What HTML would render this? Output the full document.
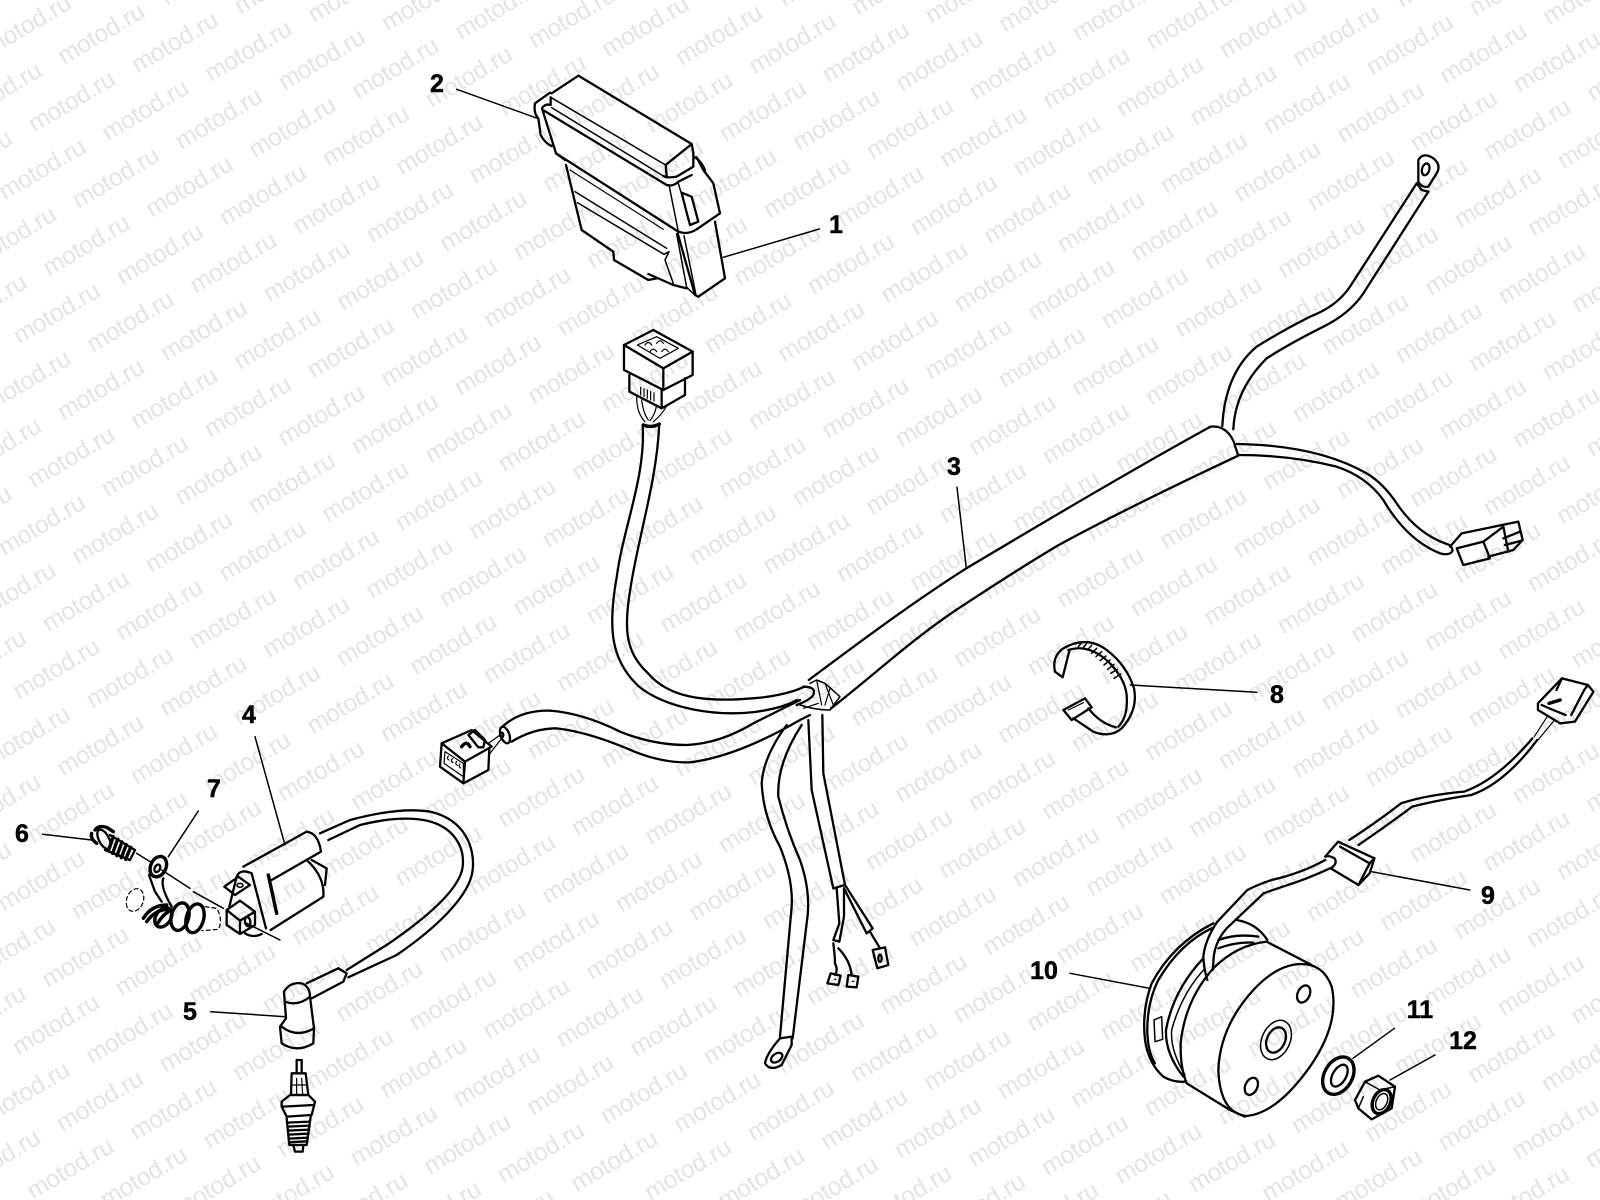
<!DOCTYPE html>
<html><head><meta charset="utf-8"><title>Ignition system parts diagram</title>
<style>
html,body{margin:0;padding:0;background:#fff;width:1600px;height:1200px;overflow:hidden}
svg{display:block}
.a path,.a ellipse,.a polygon,.a line{fill:none;stroke:#000;stroke-width:2.3;stroke-linecap:round;stroke-linejoin:round;vector-effect:non-scaling-stroke}
.a .t{stroke-width:1.2}
.a .l{stroke-width:1.5}
.a .k{stroke-width:3.4}
.a .d{stroke-width:1.2;stroke-dasharray:4 3}
.n{font:bold 25px "Liberation Sans",sans-serif;fill:#000;text-anchor:middle;stroke:#000;stroke-width:.5}
.w{font:24.8px "Liberation Sans",sans-serif;fill:#e3e3e3}
</style></head><body>
<svg xmlns="http://www.w3.org/2000/svg" width="1600" height="1200" viewBox="0 0 1600 1200">
<defs>
<pattern id="wm" patternUnits="userSpaceOnUse" x="0" y="0" width="1" height="1" patternTransform="matrix(73.5 8.6 -29.5 67.7 64 65)">
<text class="w" transform="matrix(.008251 -.00859 .011459 .011246 0 0)">motod.ru</text>
<text class="w" transform="matrix(.008251 -.00859 .011459 .011246 1 0)">motod.ru</text>
<text class="w" transform="matrix(.008251 -.00859 .011459 .011246 0 1)">motod.ru</text>
<text class="w" transform="matrix(.008251 -.00859 .011459 .011246 1 1)">motod.ru</text>
<text class="w" transform="matrix(.008251 -.00859 .011459 .011246 0 2)">motod.ru</text>
<text class="w" transform="matrix(.008251 -.00859 .011459 .011246 1 2)">motod.ru</text>
</pattern>
</defs>
<rect width="1600" height="1200" fill="#fff"/>
<rect width="1600" height="1200" fill="url(#wm)"/>
<g class="a">
<!-- ECU -->
<g transform="translate(520,70) scale(.33333)">
<path d="M175 17L515 222L520 248M175 17L95 70"/>
<path class="l" d="M92 82L437 285"/>
<path d="M437 285L515 222M437 285L440 318"/>
<path class="l" d="M95 113L430 318"/>
<path d="M430 318Q440 325 470 320L520 290L520 248"/>
<path d="M72 122L440 345Q460 350 475 335L515 315"/>
<path d="M45 100L90 68M45 100Q40 130 55 145L62 195Q75 220 95 228"/>
<path d="M66 115Q75 100 92 105M92 82L92 105M66 115L108 250L135 270"/>
<path d="M108 250L472 483Q500 497 530 478L600 430L580 340L550 300L530 262M525 262Q545 275 555 300"/>
<path class="l" d="M447 345L475 485M475 340Q490 390 510 465"/>
<path d="M485 368L515 380L535 455L510 465Q495 410 485 368"/>
<path d="M138 285L185 480L280 545"/>
<path class="t" d="M150 300L430 478"/>
<path class="l" d="M165 365L440 535"/>
<path class="l" d="M172 398L432 553L447 545L435 570L460 640"/>
<path d="M280 545L282 570L385 630L410 625"/>
<path d="M385 612L460 645L500 655"/>
<path d="M473 490L525 675L535 680L615 625L585 455"/>
<path class="l" d="M470 492L500 652L525 675M492 497L528 675"/>
</g>
<!-- 8-pin connector -->
<g transform="translate(400,50) scale(.33333)">
<path d="M672 885L760 840L878 905L790 955L672 885"/>
<path class="t" d="M712 885L770 860L835 895L780 925L712 885"/>
<path class="t" d="M735 885q10-15 20 0M770 880q10-15 20 0M750 905q10-15 20 0M785 905q10-15 20 0"/>
<path d="M672 885L672 960L790 1020L790 955M790 1020L878 975L878 905"/>
<path d="M688 975L688 1025L785 1075L785 1022M785 1075L855 1035L855 985"/>
<path class="t" d="M722 1012V1035M732 1016V1040M742 1020V1045M752 1024V1050M762 1028V1053"/>
<path class="t" d="M710 1040Q710 1090 735 1115M725 1050Q730 1090 745 1110M770 1065Q765 1095 750 1112M800 1068Q785 1095 760 1115"/>
<path class="k" d="M730 1125Q755 1135 778 1122"/>
</g>
<!-- harness trunk, connector cable -->
<g transform="translate(590,310) scale(.44643,.33333)">
<path d="M118 345C125 500 75 650 60 800C40 950 45 1050 110 1130C170 1195 280 1220 370 1206C400 1200 440 1190 463 1170"/>
<path d="M155 345C150 500 115 650 95 800C75 950 75 1020 130 1090C175 1160 250 1178 365 1165C400 1162 450 1150 480 1130"/>
<path d="M490 1110C600 1000 720 880 843 775C1000 650 1200 490 1390 350Q1425 345 1442 395L1452 437"/>
<path d="M540 1195C640 1090 720 990 820 900C900 830 970 768 1050 705C1180 610 1320 520 1452 437"/>
</g>
<g transform="translate(420,640) scale(.33333)">
<path d="M1150 140Q1190 140 1180 165Q1170 180 1130 195"/>
<path class="l" d="M1170 130L1190 120L1215 130L1260 170L1230 210"/>
<path class="t" d="M1190 120L1205 195M1215 130L1240 195M1230 145L1215 195M1150 205L1195 190"/>
<path class="l" d="M1140 195Q1185 210 1230 210"/>
<!-- lower cable + small connector -->
<path d="M245 262Q300 210 390 212Q490 220 600 275Q700 315 800 315Q900 310 1000 250L1140 180"/>
<path d="M275 305Q340 265 410 265Q500 275 620 325Q720 370 810 367Q950 350 1140 240L1170 225"/>
<ellipse cx="255" cy="285" rx="13" ry="26" transform="rotate(-20 255 285)"/>
<ellipse cx="245" cy="285" rx="5" ry="7"/>
<path d="M65 310L155 270L215 320L135 365L65 310"/>
<path d="M65 310L60 380L130 430L135 365M130 430L205 390L208 325"/>
<path class="t" d="M75 335L130 370L130 410L72 370L75 335"/>
<path class="t" d="M85 348q-6 8 2 12M97 356q-6 8 2 12M110 364q-6 8 2 12M120 372q-6 8 2 12"/>
<path d="M145 285L165 270L195 300L190 322L175 322L145 285"/>
<path class="k" d="M125 320Q140 300 150 320"/>
<path class="t" d="M205 310L240 285M210 340L245 295"/>
<!-- ring branch -->
<path d="M1100 255Q1030 350 1025 430Q1030 530 1080 620Q1120 720 1115 800L1080 1190"/>
<path d="M1145 255Q1070 370 1075 470Q1100 570 1140 660Q1175 760 1160 850L1118 1195"/>
<path d="M1080 1195L1115 1190L1115 1215L1085 1275Q1050 1295 1035 1270Q1040 1240 1080 1195"/>
<ellipse cx="1070" cy="1253" rx="19" ry="12" transform="rotate(-35 1070 1253)"/>
<!-- middle branch -->
<path d="M1165 240L1175 450L1240 745"/>
<path d="M1207 225L1210 400L1275 735"/>
<path d="M1240 745L1275 735"/>
<path d="M1250 745L1258 850L1240 900L1258 905L1272 830L1272 745"/>
<path d="M1272 745L1340 880L1358 865L1275 735"/>
<path d="M1240 910Q1245 950 1245 970Q1255 990 1245 1005M1255 925Q1290 960 1295 1005"/>
<path d="M1232 1000L1262 1007L1255 1035L1222 1030L1232 1000M1285 1005L1315 1010L1310 1042L1280 1040L1285 1005"/>
<path class="t" d="M1243 1018h5M1297 1024h5"/>
<path d="M1350 875L1380 925M1358 930L1395 922L1405 975L1372 985L1358 930"/>
<ellipse cx="1380" cy="955" rx="5" ry="11"/>
</g>
<!-- right branches -->
<g transform="translate(1150,130) scale(.33333)">
<path d="M217 888Q225 730 320 650Q400 600 480 560Q560 530 600 470L800 160"/>
<path d="M250 898Q255 780 350 685Q420 640 520 590Q600 550 640 490L835 185"/>
<path d="M800 160L815 180L835 185"/>
<path d="M805 155L805 90Q820 65 850 85Q875 105 860 130L835 170Q815 175 805 155"/>
<ellipse cx="827" cy="118" rx="11" ry="18" transform="rotate(15 827 118)"/>
<path d="M260 942Q500 945 650 1030Q700 1060 740 1120Q800 1210 890 1242"/>
<path d="M265 975Q420 975 560 1010Q650 1040 700 1110Q770 1230 870 1270Q900 1278 908 1262Q905 1245 890 1242"/>
<path d="M900 1250L935 1210L1105 1175L1118 1230L1090 1260L1015 1280"/>
<path d="M920 1255L940 1305L1020 1285L1000 1235L920 1255"/>
<path d="M1000 1235L1060 1190L1075 1265M1060 1225L1110 1205M1065 1245L1115 1232"/>
</g>
<!-- coil wire, cap, plug -->
<g transform="translate(0,690) scale(.33333)">
<path d="M960 430L1050 390Q1200 350 1290 365C1400 390 1425 480 1418 540C1410 620 1300 720 1190 795L1045 862"/>
<path d="M985 450L1080 405Q1200 375 1280 392C1360 410 1395 470 1388 530C1380 600 1270 690 1160 765L1040 840"/>
<path d="M1015 835L1040 850L1030 875M1015 835L920 880M1030 875L935 925"/>
<path d="M852 905Q870 875 905 880Q930 890 930 920L942 1015M852 905L858 985M855 935Q895 950 930 920"/>
<path d="M858 985L840 1010L845 1060Q890 1090 940 1060L942 1015M845 1010Q890 1045 942 1015"/>
<path d="M890 1110L905 1110L905 1145M890 1110L890 1145"/>
<path d="M875 1150L917 1150L925 1215L873 1215L875 1150"/>
<path class="t" d="M890 1165L890 1215M905 1165L908 1215M875 1185L922 1185"/>
<path d="M845 1235L870 1215L925 1215L945 1235L935 1275L860 1280L845 1250L845 1235M850 1250L940 1245"/>
<path d="M860 1285L868 1365L920 1365L932 1280"/>
<path d="M862 1298L930 1295M863 1310L929 1307M864 1322L928 1319M865 1334L926 1331M866 1346L924 1343M867 1357L922 1354"/>
<path d="M880 1365L885 1385L908 1385L910 1365"/>
</g>
<!-- coil, bolt, washer, lug -->
<g transform="translate(80,810) scale(.33333)">
<ellipse cx="72" cy="88" rx="15" ry="32" transform="rotate(-28 72 88)"/>
<path class="k" d="M35 70Q30 85 50 100M45 60Q55 45 80 52L100 65"/>
<path d="M90 75L165 120M75 120L150 150M165 120L150 150"/>
<path class="k" d="M100 80L85 122M113 88L98 130M126 96L111 137M139 104L124 143M152 112L137 148"/>
<ellipse class="k" cx="235" cy="170" rx="23" ry="32" transform="rotate(25 235 170)"/>
<ellipse cx="232" cy="175" rx="8" ry="12" transform="rotate(25 232 175)"/>
<path class="l" d="M170 130L210 155M245 180L330 235M340 245L430 295M500 340L600 390"/>
<path d="M207 195L225 245L245 275M250 205Q240 230 275 290"/>
<ellipse class="k" cx="345" cy="325" rx="26" ry="44" transform="rotate(15 345 325)"/>
<ellipse class="k" cx="300" cy="320" rx="26" ry="42" transform="rotate(15 300 320)"/>
<ellipse class="k" cx="250" cy="322" rx="22" ry="32" transform="rotate(35 250 322)"/>
<path class="k" d="M190 325Q215 285 260 285M200 335Q225 300 262 298M230 345Q250 310 275 300"/>
<ellipse class="d" cx="165" cy="270" rx="25" ry="35" transform="rotate(20 165 270)"/>
<path class="d" d="M375 290L410 295Q430 330 415 358L365 362"/>
<path d="M440 300L480 272L525 305L525 345L480 372L440 345L440 300M440 300L480 332L525 305M480 332L480 372"/>
<ellipse cx="503" cy="335" rx="8" ry="14" transform="rotate(-10 503 335)"/>
<path d="M433 230L475 200L510 225L465 255L433 230"/>
<ellipse class="l" cx="480" cy="226" rx="9" ry="6"/>
<path d="M470 200Q480 175 515 190L558 355M470 200L448 290M490 170L680 65Q715 70 723 125L575 210"/>
<path class="k" d="M565 195L590 310"/>
<path d="M680 150Q735 200 730 260L572 360M545 372Q520 385 495 370M695 150L740 175L735 225"/>
</g>
<!-- clamp 8 -->
<g transform="translate(1030,620) scale(.33333)">
<path d="M75 155Q65 110 100 85Q170 45 230 90Q290 135 312 205Q325 270 275 325Q240 355 190 335L130 295"/>
<path d="M75 155L98 172L118 92"/>
<path d="M115 90Q175 70 235 125Q285 175 290 225Q295 290 265 320"/>
<path d="M175 265Q210 310 258 322"/>
<path d="M100 270L165 235L185 262L125 300L100 270"/>
<path class="t" d="M115 270L160 248"/>
<path class="l" d="M155 68L145 80M170 70L160 83M185 76L172 90M200 85L185 100M215 95L198 110M228 108L210 122M240 120L222 135M252 133L233 148M262 148L242 160M272 162L252 175"/>
</g>
<!-- stator wire & clip & connector -->
<g transform="translate(1020,660) scale(.36996,.33333)">
<path d="M825 600Q760 640 680 660Q640 675 615 690M838 625Q770 660 710 680Q670 695 660 700"/>
<path d="M825 590L860 545L958 595L945 640L915 675L840 625Q860 610 850 595Q835 585 825 590"/>
<path d="M865 560L945 610L958 595M945 610L915 675"/>
<path d="M890 540Q960 490 1030 430Q1100 405 1200 395Q1290 360 1385 235"/>
<path d="M915 555Q1000 490 1060 440Q1130 420 1220 405Q1310 370 1398 240"/>
<path class="t" d="M1390 230L1425 170M1400 240L1445 180"/>
<path d="M1400 130L1465 55L1535 75L1550 95L1500 185L1460 190L1400 150L1400 130"/>
<path d="M1465 55L1450 90M1525 90L1490 165M1525 90L1535 75M1410 135Q1440 150 1475 165"/>
<path class="k" d="M1430 130L1460 120"/>
</g>
<!-- stator, washer, nut -->
<g transform="translate(1130,900) scale(.33333)">
<path d="M510 192Q580 190 605 260Q630 370 540 500Q440 640 350 648Q270 640 265 510Q270 380 370 270Q440 195 510 192Z"/>
<path d="M410 125L545 195M170 550L300 630L345 650"/>
<path d="M170 550Q150 500 152 430Q165 300 250 205Q320 135 410 125"/>
<path d="M250 70Q130 130 65 250Q35 330 45 420Q55 490 100 530Q130 548 165 545"/>
<path d="M245 85Q150 130 85 240Q50 310 52 400Q55 460 75 490"/>
<path d="M220 175Q130 270 108 390Q105 460 160 530"/>
<path class="l" d="M225 205Q155 280 125 390Q120 450 165 525"/>
<path d="M320 60Q380 70 412 120M265 120Q320 100 385 110M265 145Q320 125 370 128"/>
<path d="M352 -30L262 65Q225 120 220 170Q222 210 232 240M402 -21L290 85Q250 130 250 190L248 210"/>
<path class="l" d="M72 360L95 350L98 418L75 425L72 360"/>
<ellipse cx="521" cy="282" rx="18" ry="27" transform="rotate(25 521 282)"/>
<ellipse cx="364" cy="559" rx="18" ry="27" transform="rotate(25 364 559)"/>
<ellipse class="l" cx="438" cy="420" rx="42" ry="62" transform="rotate(25 438 420)"/>
<ellipse cx="438" cy="420" rx="27" ry="40" transform="rotate(25 438 420)"/>
<ellipse class="k" cx="625" cy="527" rx="42" ry="60" transform="rotate(30 625 527)"/>
<ellipse cx="628" cy="527" rx="20" ry="36" transform="rotate(30 628 527)"/>
<polygon points="675,600 705,545 745,527 795,560 785,625 725,658 685,625"/>
<path class="l" d="M705 545L750 570L795 560M700 590L685 625"/>
<ellipse class="k" cx="755" cy="605" rx="26" ry="38" transform="rotate(25 755 605)"/>
<ellipse class="l" cx="755" cy="605" rx="16" ry="26" transform="rotate(25 755 605)"/>
</g>
<!-- leaders -->
<path class="l" d="M456.7 89.3L537.3 118.3M819.3 229L723.3 257.3"/>
<path class="l" d="M957 487.3L966.3 568.3"/>
<path class="l" d="M255 736.7L285 845M198.3 811L168.3 856.7M42.7 834.3L91.7 840M210.7 1011.7L285 1016.7"/>
<path class="l" d="M1130.2 685L1256.8 692.3M1371.5 871.7L1469.8 890M1070 973.3L1149.5 988.3M1394.4 1028.3L1353 1058.3M1435 1055L1390 1080"/>
</g>
<!-- labels -->
<text class="n" x="437" y="92">2</text>
<text class="n" x="836" y="233">1</text>
<text class="n" x="954" y="475">3</text>
<text class="n" x="249" y="723">4</text>
<text class="n" x="214" y="797">7</text>
<text class="n" x="22" y="842">6</text>
<text class="n" x="190" y="1020">5</text>
<text class="n" x="1277" y="703">8</text>
<text class="n" x="1488" y="904">9</text>
<text class="n" x="1044" y="979">10</text>
<text class="n" x="1420" y="1018">11</text>
<text class="n" x="1463" y="1049">12</text>
</svg>
</body></html>
